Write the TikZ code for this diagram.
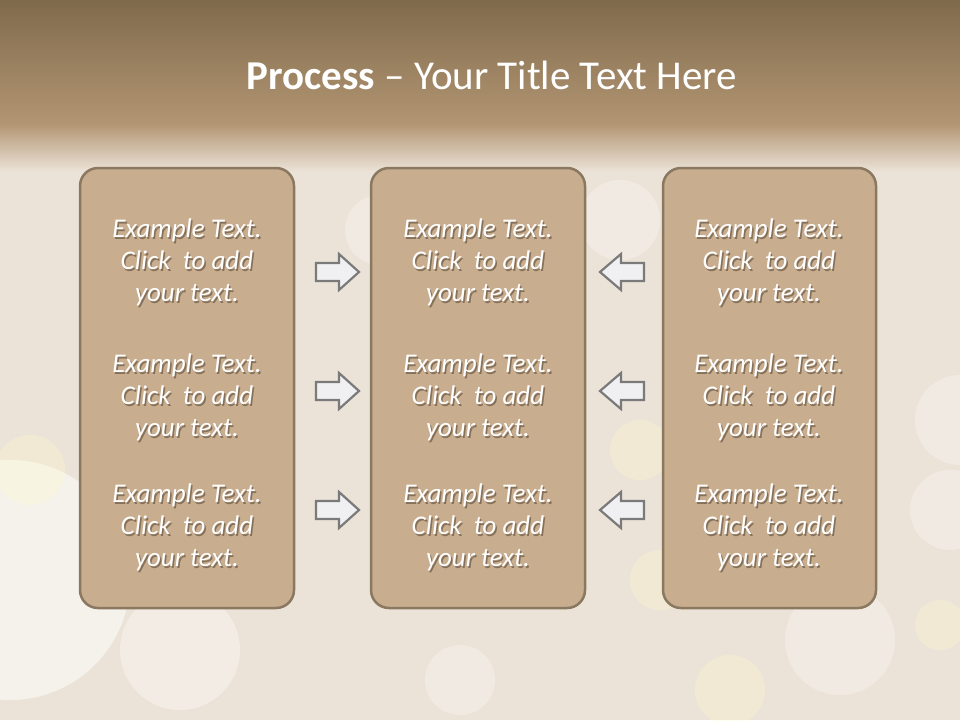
\documentclass[tikz,border=0pt]{standalone}
\usepackage{fontspec}
\setmainfont{Carlito}
\usetikzlibrary{shadings}
\definecolor{bandtop}{HTML}{7F6A4C}
\definecolor{bandbot}{HTML}{B39673}
\definecolor{bglight}{HTML}{ECE3D8}
\definecolor{boxfill}{HTML}{C8AD8F}
\definecolor{boxline}{HTML}{8A7860}
\definecolor{arrfill}{HTML}{F0F0F3}
\definecolor{arrline}{HTML}{7A7A7A}
\definecolor{txtshadow}{HTML}{857059}
\newcommand{\shd}[1]{\leavevmode\rlap{\hspace{1.5pt}\raisebox{-2pt}{\textcolor{txtshadow}{#1}}}#1}
\tikzset{
  stagebox/.style={draw=boxline, line width=2.5pt, fill=boxfill, rounded corners=18pt},
  bodytext/.style={text=white, align=center, font=\fontsize{27}{32}\selectfont\itshape, inner sep=0pt},
  flowarrow/.style={draw=arrline, line width=2.2pt, fill=arrfill, line join=miter},
  bokeh/.style={fill=white, opacity=0.28},
  warmbokeh/.style={fill=yellow!20!white, opacity=0.28},
}
\newcommand{\stagetext}[2]{%
  \node[bodytext] (#2) at (#1) {\shd{Example Text.}\\\shd{Click\ \ to add}\\\shd{your text.}};}
\begin{document}
\begin{tikzpicture}[x=1pt,y=-1pt]
\useasboundingbox (0,0) rectangle (960,720);
% background
\fill[bglight] (0,0) rectangle (960,720);
\fill[white, opacity=0.5] (10,580) circle (120);
\fill[white, opacity=0.35] (180,650) circle (60);
\foreach \cx/\cy/\r in {960/420/45, 950/510/40, 840/640/55, 120/470/40, 380/230/35, 620/220/40, 460/680/35}
  \fill[bokeh] (\cx,\cy) circle (\r);
\foreach \cx/\cy/\r in {30/470/35, 730/690/35, 640/450/30, 660/580/30, 940/625/25}
  \fill[warmbokeh] (\cx,\cy) circle (\r);
\shade[top color=bandtop, bottom color=bandbot] (0,0) rectangle (960,125);
\shade[top color=bandbot, bottom color=bglight] (0,124) rectangle (960,172);
% title
\node[text=white, font=\fontsize{41}{48}\selectfont, inner sep=0pt] (title) at (492,75) {\textbf{Process} – Your Title Text Here};
% boxes
\draw[stagebox] (80,168) rectangle (294,608);
\draw[stagebox] (371,168) rectangle (585,608);
\draw[stagebox] (663,168) rectangle (876,608);
% texts
\foreach \x/\n in {187/L,478/M,769/R}{
  \stagetext{\x,263}{t\n1}
  \stagetext{\x,398}{t\n2}
  \stagetext{\x,528}{t\n3}
}
% right arrows
\foreach \y in {272,391,510}{
  \draw[flowarrow] (316,\y-9) -- (339,\y-9) -- (339,\y-18) -- (359,\y) -- (339,\y+18) -- (339,\y+9) -- (316,\y+9) -- cycle;
}
% left arrows
\foreach \y in {272,391,510}{
  \draw[flowarrow] (644,\y-9) -- (621,\y-9) -- (621,\y-18) -- (600,\y) -- (621,\y+18) -- (621,\y+9) -- (644,\y+9) -- cycle;
}
\end{tikzpicture}
\end{document}
